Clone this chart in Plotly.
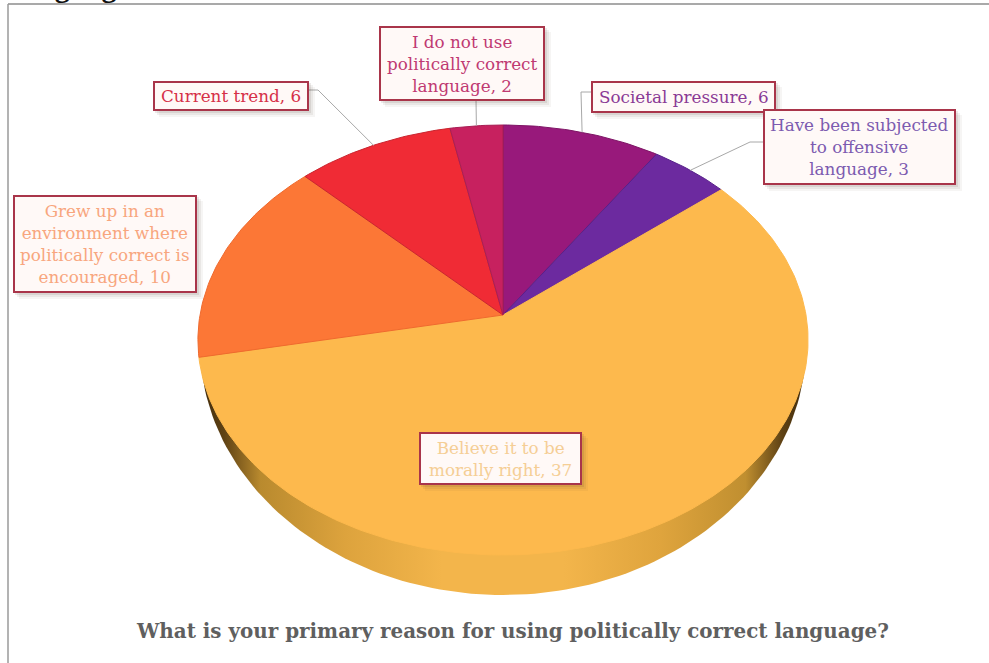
import math
import plotly.graph_objects as go

# ---- data ----
categories = ["Societal pressure", "Have been subjected to offensive language",
              "Believe it to be morally right",
              "Grew up in an environment where politically correct is encouraged",
              "Current trend", "I do not use politically correct language"]
values = [6, 3, 37, 10, 6, 2]
wrapped = ["Societal pressure", "Have been subjected<br>to offensive<br>language",
           "Believe it to be<br>morally right",
           "Grew up in an<br>environment where<br>politically correct is<br>encouraged",
           "Current trend", "I do not use<br>politically correct<br>language"]
slice_colors = ["#98197B", "#6C2A9F", "#FDB94D", "#FC7736", "#F02B35", "#C7215F"]
edge_colors = ["#7E1565", "#58218A", "#FDB94D", "#EF6A2E", "#C9252F", "#A81F55"]
text_colors = ["#8A3A95", "#7C5BB0", "#F5CE95", "#F8A67E", "#D63048", "#BF3A72"]
chart_title = "What is your primary reason for using politically correct language?"
heading = "Language"

# ---- layout geometry (pixels of the page) ----
W, H = 989, 663
CX, CY = 503, 315      # where the slices meet
R, A, K = 303, 212.1, 0.1163   # perspective projection of the pie disc
FONT = "DejaVu Serif"

boxes = [(592, 775, 82, 112), (764, 955, 110, 184), (420, 581, 433, 484),
         (14, 196, 196, 292), (154, 308, 82, 110), (380, 544, 27, 100)]
# elbows of the leader lines: None when the slice has no leader
elbows = [[(593, 92), (581, 92)], [(765, 142), (750, 142)], None, None,
          [(308, 90), (318, 90)], [(476, 100)]]


def project(theta):
    s, c = math.sin(theta), math.cos(theta)
    d = 1 + K * c
    return CX + R * s / d, CY - A * c / d


total = sum(values)
fig = go.Figure()

# side wall of the disc
rx, ry, ryc = 303, 250, 345
n = 120
wx = [503 - rx * math.cos(math.pi * i / n) for i in range(n + 1)]
wy = [ryc + ry * math.sin(math.pi * i / n) for i in range(n + 1)]
fig.add_trace(go.Scatter(
    x=wx, y=wy, mode="lines", fill="toself", line=dict(width=0),
    fillgradient=dict(type="horizontal", colorscale=[
        [0.0, "#3F2A0C"], [0.04, "#5F4214"], [0.10, "#B98A2E"], [0.24, "#DDA33D"],
        [0.40, "#F3B54B"], [0.60, "#F3B54B"], [0.76, "#DFA43D"], [0.90, "#C08F30"],
        [0.96, "#5F4214"], [1.0, "#3F2A0C"]]),
    hoverinfo="skip", showlegend=False))

# slices
cum = 0
mids = []
for name, v, col, edge in zip(categories, values, slice_colors, edge_colors):
    a0 = 2 * math.pi * cum / total
    a1 = 2 * math.pi * (cum + v) / total
    steps = max(8, int(v * 6))
    pts = [project(a0 + (a1 - a0) * i / steps) for i in range(steps + 1)]
    xs = [CX] + [p[0] for p in pts] + [CX]
    ys = [CY] + [p[1] for p in pts] + [CY]
    fig.add_trace(go.Scatter(
        x=xs, y=ys, mode="lines", fill="toself", fillcolor=col,
        line=dict(color=edge, width=1), name=name,
        hovertext=f"{name}, {v}", hoverinfo="text", showlegend=False))
    mids.append(project((a0 + a1) / 2))
    cum += v

shapes, annotations = [], []
for i, (label, v, tc) in enumerate(zip(wrapped, values, text_colors)):
    x0, x1, y0, y1 = boxes[i]
    if elbows[i]:
        pts = elbows[i] + [mids[i]]
        path = "M " + " L ".join(f"{x:.1f} {y:.1f}" for x, y in pts)
        shapes.append(dict(type="path", path=path, line=dict(color="#A8A8A8", width=1), layer="above"))
    # soft shadow
    for off, alpha in ((7, 0.05), (5, 0.07), (3, 0.10)):
        shapes.append(dict(type="rect", x0=x0 + off - 2, x1=x1 + off, y0=y0 + off - 2, y1=y1 + off,
                           line=dict(width=0), fillcolor=f"rgba(70,50,40,{alpha})"))
    shapes.append(dict(type="rect", x0=x0, x1=x1, y0=y0, y1=y1,
                       line=dict(color="#A9354A", width=2), fillcolor="#FFF9F7"))
    annotations.append(dict(x=(x0 + x1) / 2, y=(y0 + y1) / 2, text=f"{label}, {v}", showarrow=False,
                            xanchor="center", yanchor="middle", align="center",
                            font=dict(family=FONT, size=16.8, color=tc)))

# outer frame lines
shapes.append(dict(type="line", x0=8, x1=W, y0=4, y1=4, line=dict(color="#8C8C8C", width=1.5)))
shapes.append(dict(type="line", x0=8, x1=8, y0=4, y1=H, line=dict(color="#9A9A9A", width=1.5)))

annotations.append(dict(x=512, y=631, text=f"<b>{chart_title}</b>", showarrow=False,
                        xanchor="center", yanchor="middle",
                        font=dict(family=FONT, size=19.9, color="#5F5F5F")))
annotations.append(dict(x=1, y=5, text=f"<b>{heading}</b>", showarrow=False,
                        xanchor="left", yanchor="bottom",
                        font=dict(family="Liberation Serif", size=30, color="#111111")))

fig.update_layout(
    width=W, height=H, margin=dict(l=0, r=0, t=0, b=0), autosize=False,
    paper_bgcolor="white", plot_bgcolor="white", showlegend=False,
    xaxis=dict(range=[0, W], visible=False, fixedrange=True),
    yaxis=dict(range=[H, 0], visible=False, fixedrange=True),
    shapes=shapes, annotations=annotations,
)
fig.write_html("out.html", config=dict(displayModeBar=False),
               post_script="document.body.style.margin='0';")
